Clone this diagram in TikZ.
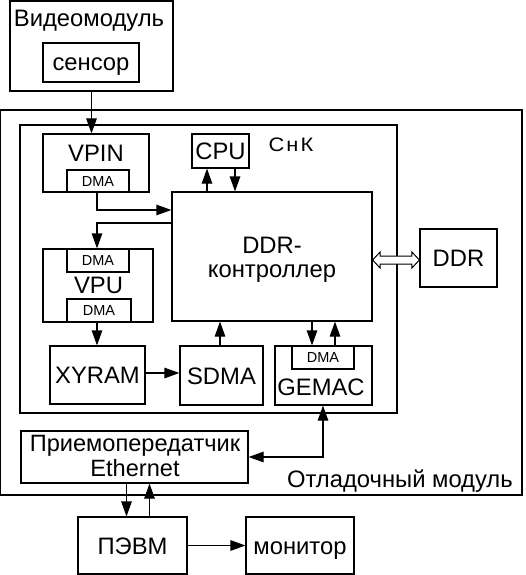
\documentclass[tikz,border=0pt]{standalone}
\usepackage{fontspec}
\usepackage{graphicx}
\setmainfont{Liberation Sans}
\newfontfamily\socfont[LetterSpace=10]{Liberation Sans}
\usetikzlibrary{arrows.meta,calc}
\newcommand\twoline[2]{\begin{tabular}[t]{@{}c@{}}#1\\#2\end{tabular}}
\begin{document}
\begin{tikzpicture}[x=1pt,y=-1pt,
  box/.style={draw, line width=1.2pt, inner sep=0pt, rectangle},
  bigtxt/.style={font=\fontsize{23.8}{24}\selectfont, inner sep=0pt},
  smalltxt/.style={font=\fontsize{14.5}{16}\selectfont, inner sep=0pt},
  midtxt/.style={font=\socfont\fontsize{19.5}{20}\selectfont, inner sep=0pt},
  capb/.style={text height=17pt, text depth=0pt},
  caps/.style={text height=10.4pt, text depth=0pt},
  capm/.style={text height=14pt, text depth=0pt},
  arr/.style={line width=1.2pt, -{Triangle[length=15pt,width=10.5pt]}},
  darr/.style={line width=1.2pt, {Triangle[length=15pt,width=10.5pt]}-{Triangle[length=15pt,width=10.5pt]}},
  hollow/.style={draw, line width=1pt, fill=white}
]
\useasboundingbox (0,0) rectangle (525,575);
% Video module
\node[box, minimum width=163pt, minimum height=90pt] (vm) at (91.5,46) {};
\node[bigtxt, capb] (vmlbl) at (89,18.5) {Видеомодуль};
\node[box, bigtxt, capb, minimum width=96pt, minimum height=39pt] (sens) at (91,62.5) {сенсор};
% Debug module
\node[box, minimum width=521.2pt, minimum height=385pt] (dbg) at (261.4,302.5) {};
\node[bigtxt, capb, anchor=east] (dbglbl) at (513,479) {Отладочный модуль};
% SoC
\node[box, minimum width=377pt, minimum height=288pt] (soc) at (208.5,269) {};
\node[midtxt, capm] (soclbl) at (291,144.5) {\scalebox{1.12}[1]{СнК}};
% VPIN
\node[box, minimum width=106pt, minimum height=58pt] (vpin) at (96,163) {};
\node[bigtxt, capb] (vpinlbl) at (96,153) {VPIN};
\node[box, smalltxt, caps, minimum width=62pt, minimum height=22pt] (vpindma) at (98,181) {DMA};
% CPU
\node[box, bigtxt, capb, minimum width=57pt, minimum height=34pt] (cpu) at (220.5,151) {CPU};
% DDR controller
\node[box, minimum width=200pt, minimum height=129pt] (ddrc) at (272,256.5) {};
\node[bigtxt, anchor=base] (ddrclbl) at (272,253) {\twoline{DDR-}{контроллер}};
% VPU
\node[box, minimum width=110pt, minimum height=73pt] (vpu) at (98,285.5) {};
\node[box, smalltxt, caps, minimum width=62pt, minimum height=23pt] (vpudmaa) at (98,260.5) {DMA};
\node[bigtxt, capb] (vpulbl) at (98.5,284.5) {VPU};
\node[box, smalltxt, caps, minimum width=64pt, minimum height=23pt] (vpudmab) at (99,310.5) {DMA};
% XYRAM, SDMA, GEMAC
\node[box, bigtxt, capb, minimum width=95pt, minimum height=58pt] (xyram) at (97.5,375) {XYRAM};
\node[box, bigtxt, capb, minimum width=83pt, minimum height=59pt] (sdma) at (221.5,375.5) {SDMA};
\node[box, minimum width=97pt, minimum height=59pt] (gemac) at (323.5,375.5) {};
\node[box, smalltxt, caps, minimum width=62pt, minimum height=23pt] (gemacdma) at (323,357.5) {DMA};
\node[bigtxt, capb] (gemaclbl) at (321,387) {GEMAC};
% DDR
\node[box, bigtxt, capb, minimum width=77pt, minimum height=58pt] (ddr) at (458.5,258) {DDR};
% Transceiver
\node[box, minimum width=227pt, minimum height=52pt] (trx) at (134.5,457) {};
\node[font=\fontsize{23.6}{25}\selectfont, inner sep=0pt, anchor=base] (trxlbl) at (135,451.7) {\twoline{Приемопередатчик}{Ethernet}};
% PC and monitor
\node[box, bigtxt, capb, minimum width=109pt, minimum height=57pt] (pc) at (132.5,545.5) {ПЭВМ};
\node[box, bigtxt, capb, minimum width=108pt, minimum height=57pt] (mon) at (300,545.5) {монитор};

% connectors
\draw[arr] (vm.south) -- (vm.south |- vpin.north);
\draw[arr] ([xshift=-13.5pt]cpu.south |- ddrc.north) -- ([xshift=-13.5pt]cpu.south);
\draw[arr] ([xshift=14.5pt]cpu.south) -- ([xshift=14.5pt]cpu.south |- ddrc.north);
\draw[arr] ([xshift=-1pt]vpindma.south) |- ([yshift=46.5pt]ddrc.west);
\draw[arr] ([yshift=33.5pt]ddrc.west) -| ([xshift=-1pt]vpudmaa.north);
\draw[arr] ([xshift=-2pt]vpudmab.south) -- ([xshift=-2pt]vpudmab.south |- xyram.north);
\draw[arr] ([yshift=2pt]xyram.east) -- ([yshift=2pt]xyram.east -| sdma.west);
\draw[arr] ([xshift=-1.5pt]sdma.north) -- ([xshift=-1.5pt]sdma.north |- ddrc.south);
\draw[arr] ([xshift=-11.5pt]gemac.north |- ddrc.south) -- ([xshift=-11.5pt]gemac.north);
\draw[arr] ([xshift=11.5pt]gemac.north) -- ([xshift=11.5pt]gemac.north |- ddrc.south);
\draw[darr] ([xshift=-0.5pt]gemac.south) |- (trx.east);
\draw[arr] ([xshift=-8pt]trx.south) -- ([xshift=-8pt]trx.south |- pc.north);
\draw[arr] ([xshift=15pt]trx.south |- pc.north) -- ([xshift=15pt]trx.south);
\draw[arr] (pc.east) -- (mon.west);
% hollow double arrow between DDR controller and DDR
\coordinate (hl) at ([yshift=-3.5pt]ddrc.east);
\coordinate (hr) at (hl -| ddr.west);
\draw[hollow] (hl) -- ($(hl)+(7.5,-8)$) -- ($(hl)+(7.5,-4)$) -- ($(hr)+(-7.5,-4)$) -- ($(hr)+(-7.5,-8)$)
  -- (hr) -- ($(hr)+(-7.5,8)$) -- ($(hr)+(-7.5,4)$) -- ($(hl)+(7.5,4)$) -- ($(hl)+(7.5,8)$) -- cycle;
\end{tikzpicture}
\end{document}
